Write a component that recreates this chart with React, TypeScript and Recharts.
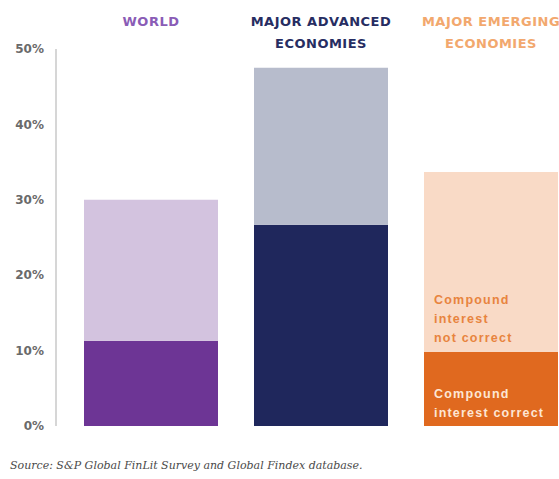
import React from 'react';
import { BarChart, Bar, XAxis, YAxis, Cell, LabelList } from 'recharts';

const categories = ['World', 'Major advanced economies', 'Major emerging economies'];
const labelLine1 = ['WORLD', 'MAJOR ADVANCED', 'MAJOR EMERGING'];
const labelLine2 = ['', 'ECONOMIES', 'ECONOMIES'];
const correct = [11.3, 26.7, 9.8];
const notCorrect = [18.7, 20.8, 23.9];
const yTicks = [0, 10, 20, 30, 40, 50];

const labelColors = ['#8a5cb6', '#272d62', '#f2a86e'];
const darkColors = ['#6d3595', '#1f275c', '#e0691f'];
const lightColors = ['#d3c3df', '#b7bccc', '#f9dac6'];

const data = categories.map((name, i) => ({
  name,
  correct: correct[i],
  notCorrect: notCorrect[i],
}));

const CategoryTick = (props: any) => {
  const { x, y, index } = props;
  const i = index as number;
  return (
    <g>
      <text x={x} y={y - 15} textAnchor="middle" fill={labelColors[i]} fontFamily="DejaVu Sans" fontWeight="bold" fontSize={13} letterSpacing={0.5}>
        {labelLine1[i]}
      </text>
      {labelLine2[i] ? (
        <text x={x} y={y + 7} textAnchor="middle" fill={labelColors[i]} fontFamily="DejaVu Sans" fontWeight="bold" fontSize={13} letterSpacing={0.5}>
          {labelLine2[i]}
        </text>
      ) : null}
    </g>
  );
};

const notCorrectLabel = (props: any) => {
  const { x, y, height, index } = props;
  if (index !== 2) return null;
  const bottom = y + height;
  const lines = ['Compound', 'interest', 'not correct'];
  return (
    <g>
      {lines.map((t, k) => (
        <text key={k} x={x + 10} y={bottom - 48 + k * 19} fill="#e8843e" fontFamily="Liberation Sans" fontWeight="bold" fontSize={12.5} letterSpacing={1.2}>
          {t}
        </text>
      ))}
    </g>
  );
};

const correctLabel = (props: any) => {
  const { x, y, height, index } = props;
  if (index !== 2) return null;
  const bottom = y + height;
  const lines = ['Compound', 'interest correct'];
  return (
    <g>
      {lines.map((t, k) => (
        <text key={k} x={x + 10} y={bottom - 28 + k * 19} fill="#fde6d4" fontFamily="Liberation Sans" fontWeight="bold" fontSize={12.5} letterSpacing={1.2}>
          {t}
        </text>
      ))}
    </g>
  );
};

export default function App() {
  return (
    <div style={{ position: 'absolute', left: 0, top: 0, width: 559, height: 479, overflow: 'hidden', background: '#ffffff' }}>
      <BarChart width={600} height={479} data={data} margin={{ top: 0, right: 24, bottom: 53, left: 0 }} barSize={134}>
        <XAxis
          dataKey="name"
          orientation="top"
          height={49}
          axisLine={false}
          tickLine={false}
          interval={0}
          padding={{ left: 10, right: 0 }}
          tick={<CategoryTick />}
        />
        <YAxis
          width={56}
          domain={[0, 50]}
          ticks={yTicks}
          interval={0}
          tickFormatter={(v: number) => `${v}%`}
          axisLine={{ stroke: '#c9c9c9', strokeWidth: 1.5 }}
          tickLine={false}
          tickMargin={6}
          tick={{ fill: '#6a6a6a', fontSize: 12, fontFamily: 'DejaVu Sans', fontWeight: 'bold' }}
        />
        <Bar dataKey="correct" stackId="a" isAnimationActive={false}>
          {data.map((_, i) => (
            <Cell key={i} fill={darkColors[i]} />
          ))}
          <LabelList dataKey="correct" content={correctLabel} />
        </Bar>
        <Bar dataKey="notCorrect" stackId="a" isAnimationActive={false}>
          {data.map((_, i) => (
            <Cell key={i} fill={lightColors[i]} />
          ))}
          <LabelList dataKey="notCorrect" content={notCorrectLabel} />
        </Bar>
      </BarChart>
      <div style={{ position: 'absolute', left: 10, top: 459, fontFamily: 'DejaVu Serif', fontStyle: 'italic', fontSize: 11, color: '#4a4a4a', whiteSpace: 'nowrap' }}>
        Source: S&amp;P Global FinLit Survey and Global Findex database.
      </div>
    </div>
  );
}
